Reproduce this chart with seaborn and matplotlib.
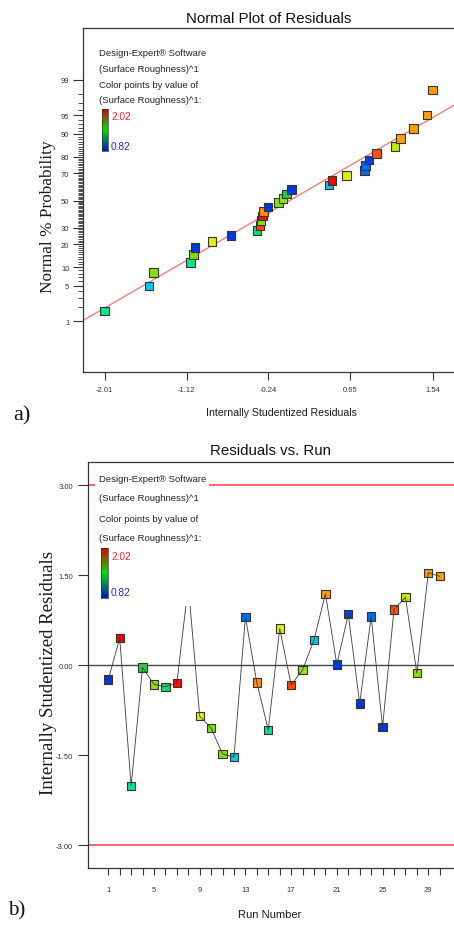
import numpy as np
import pandas as pd
import matplotlib
matplotlib.use("Agg")
import matplotlib.pyplot as plt
import seaborn as sns
from matplotlib.colors import LinearSegmentedColormap
from matplotlib.patches import Rectangle
from statistics import NormalDist

# 运行顺序与内部学生化残差
run_number = list(range(1, 31))
residuals = [-0.24, 0.45, -2.01, -0.04, -0.32, -0.36, -0.30, 1.33, -0.85, -1.05,
             -1.48, -1.53, 0.80, -0.29, -1.08, 0.61, -0.33, -0.08, 0.42, 1.19,
             0.01, 0.85, -0.64, 0.81, -1.03, 0.93, 1.13, -0.13, 1.54, 1.48]
# 表面粗糙度（点的颜色）
roughness = [0.84, 2.02, 1.28, 1.40, 1.56, 1.34, 2.00, 1.83, 1.68, 1.54,
             1.56, 1.12, 0.96, 1.85, 1.28, 1.68, 1.94, 1.58, 1.12, 1.83,
             0.84, 0.86, 0.84, 0.96, 0.84, 1.92, 1.63, 1.56, 1.83, 1.83]
rough_low, rough_high = 0.82, 2.02

prob_ticks = [1, 5, 10, 20, 30, 50, 70, 80, 90, 95, 99]
resid_x_ticks = [-2.01, -1.12, -0.24, 0.65, 1.54]
run_ticks = [1, 5, 9, 13, 17, 21, 25, 29]
resid_y_ticks = [-3.0, -1.5, 0.0, 1.5, 3.0]
limit_lines = [-3.0, 3.0]
legend_lines = ["Design-Expert\u00ae Software", "(Surface Roughness)^1",
                "Color points by value of", "(Surface Roughness)^1:"]

W, H = 454, 928
NARROW = ["Liberation Sans Narrow", "Liberation Sans", "DejaVu Sans"]
SERIF = ["Liberation Serif", "DejaVu Serif"]

point_cmap = LinearSegmentedColormap.from_list("de_points", [
    (0.00, "#0030e0"), (0.12, "#0070f0"), (0.25, "#00c8f0"), (0.38, "#00e890"),
    (0.48, "#20d040"), (0.61, "#80e000"), (0.67, "#b8f000"), (0.72, "#e0f000"),
    (0.84, "#ffa000"), (0.92, "#ff5000"), (1.00, "#ff0000")])
bar_cmap = LinearSegmentedColormap.from_list("de_bar", ["#0018c0", "#00e000", "#e00000"])


def fx(px):
    return px / W


def fy(py):
    return 1 - py / H


def legend_block(fig, y_lines, bar_box, lab_y):
    for txt, yy in zip(legend_lines, y_lines):
        fig.text(fx(99), fy(yy), txt, ha="left", va="center", fontsize=6.8,
                 family=NARROW, color="#222222", zorder=6)
    x0, y0, x1, y1 = bar_box
    cax = fig.add_axes([fx(x0), fy(y1), (x1 - x0) / W, (y1 - y0) / H])
    cax.imshow(np.linspace(0, 1, 100)[:, None], cmap=bar_cmap, origin="lower", aspect="auto")
    cax.set_xticks([]); cax.set_yticks([])
    for s in cax.spines.values():
        s.set_linewidth(0.5); s.set_color("#333333")
    cax.set_zorder(7)
    fig.text(fx(x1 + 3), fy(lab_y[0]), f"{rough_high:.2f}", ha="left", va="center",
             fontsize=7.3, family=NARROW, color="#ff2020", zorder=6)
    fig.text(fx(x1 + 3), fy(lab_y[1]), f"{rough_low:.2f}", ha="left", va="center",
             fontsize=7.3, family=NARROW, color="#2020ff", zorder=6)


def style_axes(ax):
    for side in ("left", "top", "bottom"):
        ax.spines[side].set_color("#333333")
        ax.spines[side].set_linewidth(0.9)
    ax.spines["right"].set_visible(False)
    ax.grid(False)
    for lab in ax.get_xticklabels() + ax.get_yticklabels():
        lab.set_family(NARROW)
        lab.set_color("#333333")


def main():
    sns.set_style("ticks")
    plt.rcParams["font.family"] = NARROW

    df = pd.DataFrame({"run": run_number, "resid": residuals, "rough": roughness})
    n = len(df)
    nd = NormalDist()

    fig = plt.figure(figsize=(W / 100, H / 100), dpi=100)

    # ---- a) 残差正态概率图 ----
    ax1 = fig.add_axes([fx(83.3), fy(373), 1 - fx(83.3), (373 - 29) / H])
    srt = df.sort_values("resid", kind="stable").reset_index(drop=True)
    srt["z"] = [nd.inv_cdf((i + 0.5) / n) for i in range(n)]

    slope, icpt = np.polyfit(srt["resid"], srt["z"], 1)
    xl = np.array([-2.24, 1.80])
    ax1.plot(xl, slope * xl + icpt, color="#ff7b7b", lw=1.0, zorder=1)
    sns.scatterplot(data=srt, x="resid", y="z", hue="rough", palette=point_cmap,
                    hue_norm=(rough_low, rough_high), marker="s", s=38,
                    edgecolor="#333333", linewidth=0.8, legend=False, ax=ax1, zorder=3)
    ax1.set_xlim(-2.24, 1.77)
    ax1.set_ylim(-3.30, 3.32)
    ax1.set_xticks(resid_x_ticks)
    ax1.set_xticklabels([f"{v:.2f}" for v in resid_x_ticks])
    ax1.set_yticks([nd.inv_cdf(p / 100) for p in prob_ticks])
    ax1.set_yticklabels([str(p) for p in prob_ticks])
    minor_p = [p for p in range(1, 100) if p not in prob_ticks]
    ax1.set_yticks([nd.inv_cdf(p / 100) for p in minor_p], minor=True)
    ax1.tick_params(axis="y", which="major", length=7.5, width=0.8, pad=2.5,
                    labelsize=5.5, color="#333333", direction="out", left=True)
    ax1.tick_params(axis="y", which="minor", length=3.6, width=0.6,
                    color="#333333", direction="out", left=True)
    ax1.tick_params(axis="x", which="major", length=6, width=0.8, pad=4,
                    labelsize=5.5, color="#333333", direction="out", bottom=True)
    ax1.set_xlabel(""); ax1.set_ylabel("")
    ax1.set_title("Normal Plot of Residuals", fontsize=10.8, pad=4, family=NARROW, color="#111111")
    style_axes(ax1)

    fig.text(fx(48.5), fy(216.7), "Normal % Probability", rotation=90, ha="center",
             va="center", fontsize=12.4, family=SERIF, color="#1a1a1a")
    fig.text(fx(281), fy(413), "Internally Studentized Residuals", ha="center",
             va="center", fontsize=7.6, family=NARROW, color="#1a1a1a")
    fig.text(fx(22), fy(416), "a)", ha="center", va="center", fontsize=16,
             family=SERIF, color="#111111")
    legend_block(fig, [54, 69.5, 85, 100.5], (102, 110, 108, 152), (117, 147))

    # ---- b) 残差与运行顺序 ----
    ax2 = fig.add_axes([fx(87.7), fy(869), 1 - fx(87.7), (869 - 463.3) / H])
    for yv in limit_lines:
        ax2.axhline(yv, color="#ff3b3b", lw=1.1, zorder=1)
    ax2.axhline(0, color="#444444", lw=1.0, zorder=1)
    sns.scatterplot(data=df, x="run", y="resid", hue="rough", palette=point_cmap,
                    hue_norm=(rough_low, rough_high), marker="s", s=36,
                    edgecolor="#333333", linewidth=0.8, legend=False, ax=ax2, zorder=2)
    sns.lineplot(data=df, x="run", y="resid", color="#3a3a3a", lw=0.6, ax=ax2, zorder=3)
    ax2.set_xlim(-0.8, 31.25)
    ax2.set_ylim(-3.38, 3.38)
    ax2.set_xticks(run_ticks)
    ax2.set_xticklabels([str(r) for r in run_ticks])
    ax2.set_xticks([r for r in run_number if r not in run_ticks], minor=True)
    ax2.set_yticks(resid_y_ticks)
    ax2.set_yticklabels([f"{v:.2f}" for v in resid_y_ticks])
    ax2.tick_params(axis="y", which="major", length=7.5, width=0.8, pad=3,
                    labelsize=5.5, color="#333333", direction="out", left=True)
    ax2.tick_params(axis="x", which="both", length=5, width=0.8, pad=8,
                    labelsize=5.5, color="#333333", direction="out", bottom=True)
    ax2.set_xlabel(""); ax2.set_ylabel("")
    ax2.set_title("Residuals vs. Run", fontsize=10.8, pad=6, family=NARROW, color="#111111")
    style_axes(ax2)

    fig.text(fx(49), fy(673), "Internally Studentized Residuals", rotation=90, ha="center",
             va="center", fontsize=13.5, family=SERIF, color="#1a1a1a")
    fig.text(fx(270), fy(915), "Run Number", ha="center", va="center", fontsize=8,
             family=NARROW, color="#1a1a1a")
    fig.text(fx(17), fy(911), "b)", ha="center", va="center", fontsize=15,
             family=SERIF, color="#111111")

    # 图例区域的白底（遮住下面的线和点）
    box = Rectangle((fx(95), fy(607)), (209 - 95) / W, (607 - 469) / H,
                    transform=fig.transFigure, facecolor="white", edgecolor="none", zorder=5)
    fig.add_artist(box)
    legend_block(fig, [480, 499, 520, 538.5], (101, 549, 108, 599), (557, 593))

    fig.savefig("out.png", dpi=100)


if __name__ == "__main__":
    main()
